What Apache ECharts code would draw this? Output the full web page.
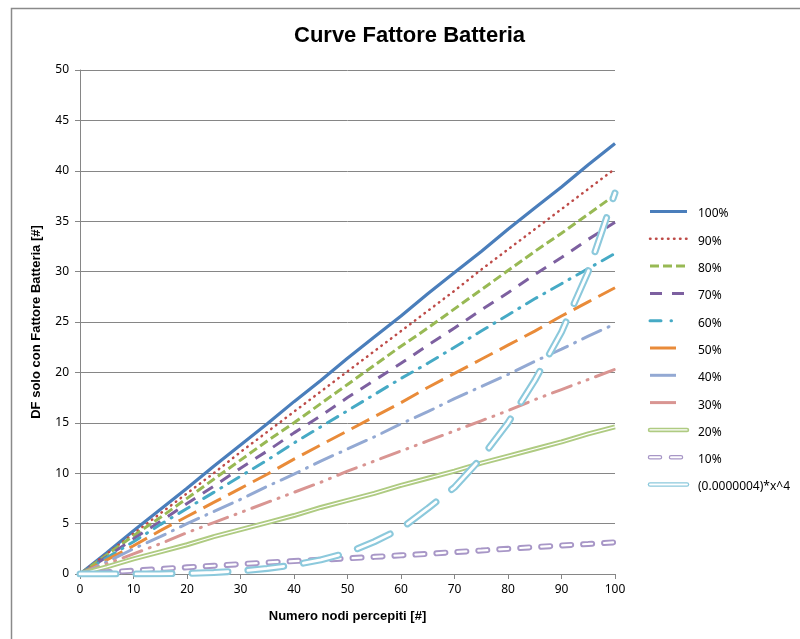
<!DOCTYPE html>
<html>
<head>
<meta charset="utf-8">
<script src="https://cdn.jsdelivr.net/npm/echarts@6/dist/echarts.min.js"></script>
<style>
html,body{margin:0;padding:0;background:#fff;}
#chart{width:800px;height:639px;}
</style>
</head>
<body>
<div id="chart"></div>
<script>
// ---- data ----
var xValues = [0,5,10,15,20,25,30,35,40,45,50,55,60,65,70,75,80,85,90,95,100];
var xTicks = [0,10,20,30,40,50,60,70,80,90,100];
var yTicks = [0,5,10,15,20,25,30,35,40,45,50];
var seriesNames = ['100%','90%','80%','70%','60%','50%','40%','30%','20%','10%','(0.0000004)*x^4'];
var s100 = [0,2.1,4.3,6.4,8.5,10.7,12.8,14.9,17.1,19.2,21.4,23.5,25.6,27.8,29.9,32.0,34.2,36.3,38.4,40.6,42.7];
var s90  = [0,2.0,4.0,6.0,8.0,10.0,12.1,14.1,16.1,18.1,20.1,22.1,24.1,26.1,28.1,30.2,32.2,34.2,36.2,38.2,40.2];
var s80  = [0,1.9,3.8,5.6,7.5,9.4,11.3,13.2,15.0,16.9,18.8,20.7,22.6,24.4,26.3,28.2,30.1,32.0,33.8,35.7,37.6];
var s70  = [0,1.7,3.5,5.2,7.0,8.7,10.5,12.2,14.0,15.7,17.5,19.2,20.9,22.7,24.4,26.2,27.9,29.7,31.4,33.2,34.9];
var s60  = [0,1.6,3.2,4.9,6.5,8.1,9.7,11.3,13.0,14.6,16.2,17.8,19.4,20.9,22.5,24.1,25.7,27.3,28.8,30.3,31.8];
var s50  = [0,1.4,2.8,4.3,5.7,7.1,8.5,9.9,11.4,12.8,14.2,15.6,17.0,18.5,19.9,21.3,22.7,24.1,25.6,27.0,28.4];
var s40  = [0,1.2,2.5,3.7,5.0,6.2,7.4,8.7,9.9,11.2,12.4,13.6,14.9,16.1,17.4,18.6,19.8,21.1,22.3,23.6,24.8];
var s30  = [0,1.0,2.0,3.0,4.1,5.1,6.1,7.1,8.1,9.1,10.2,11.2,12.2,13.2,14.2,15.2,16.2,17.3,18.3,19.3,20.3];
var s20  = [0,0.7,1.5,2.2,2.9,3.7,4.4,5.1,5.8,6.6,7.3,8.0,8.8,9.5,10.2,11.0,11.7,12.4,13.1,13.9,14.6];
var s10  = [0,0.17,0.33,0.5,0.66,0.82,0.98,1.14,1.28,1.42,1.55,1.70,1.85,2.0,2.17,2.33,2.5,2.67,2.83,2.98,3.14];
var sPow = [0,0,0.01,0.02,0.06,0.15,0.3,0.55,0.9,1.4,2.1,3.2,4.5,6.5,8.6,11.5,15.0,19.2,24.0,30.0,37.8];
var seriesValues = [s100,s90,s80,s70,s60,s50,s40,s30,s20,s10,sPow];

// ---- styles ----
var styles = [
  {color:'#4A7EBB', width:3.2, type:'solid', cap:'butt', legType:'solid'},
  {color:'#BE4B48', width:2.5, type:[0.5,5.5], cap:'round', legType:[0.5,5.5]},
  {color:'#98B954', width:3,   type:[9,4], cap:'butt', legType:[9,4]},
  {color:'#7D60A0', width:3,   type:[12,9], cap:'butt', legType:[12,10]},
  {color:'#46AAC5', width:3,   type:[12,8,1,8], cap:'round', legType:[11,10,0.5,30]},
  {color:'#E98B39', width:3,   type:[20,8], cap:'butt', legType:[26,20]},
  {color:'#93A9D3', width:3,   type:[20,8,1,8], cap:'round', legType:[26,20]},
  {color:'#D99592', width:3,   type:[20,8,1,8,1,8], cap:'round', legType:[26,20]},
  {color:'#AFCB82', width:5,   type:'solid', cap:'butt', inner:1.2, legType:'solid'},
  {color:'#A897C7', width:6,   type:[9,12], cap:'round', inner:2.2, legType:[10,11]},
  {color:'#8CC9DC', width:7,   type:[36,20], cap:'round', inner:2.8, legType:'solid'}
];

function pairs(vals){ return xValues.map(function(x,i){ return [x, vals[i]]; }); }

var series = [];
seriesNames.forEach(function(name, i){
  var st = styles[i];
  series.push({
    name: name, type:'line', data: pairs(seriesValues[i]),
    symbol:'none', showSymbol:false, silent:true, animation:false,
    lineStyle:{color:st.color, width:st.width, type:st.type, cap:st.cap},
    itemStyle:{color:st.color}, z: 2 + i*2
  });
  if (st.inner) {
    series.push({
      name: name + ' ', type:'line', data: pairs(seriesValues[i]),
      symbol:'none', showSymbol:false, silent:true, animation:false,
      lineStyle:{color:'#ffffff', width:st.inner, type:st.type, cap:st.cap},
      z: 3 + i*2
    });
  }
});

var LEG_LEFT = 647, LEG_TOP = 203, LEG_W = 40, LEG_H = 12, LEG_GAP = 15.3;
var LEG_X0 = LEG_LEFT + 3, LEG_X1 = LEG_LEFT + 40;
var ICON_Y0 = 211.5, ICON_STEP = 27.3;
var legendData = seriesNames.map(function(n){ return {name:n}; });

// legend icons drawn as graphics (the built-in icons are hidden)
var legendIcons = [];
styles.forEach(function(st, i){
  var cy = ICON_Y0 + i*ICON_STEP;
  var w = Math.min(st.width, 4.5);
  var dash = Array.isArray(st.legType) ? st.legType : null;
  var capStyle = (st.inner || i===1 || i===4) ? 'round' : 'butt';
  legendIcons.push({
    type:'line', silent:true, z:100,
    shape:{x1:LEG_X0, y1:cy, x2:LEG_X1, y2:cy},
    style:{stroke:st.color, lineWidth:w, lineDash:dash, lineCap:capStyle}
  });
  if (st.inner) {
    legendIcons.push({
      type:'line', silent:true, z:101,
      shape:{x1:LEG_X0, y1:cy, x2:LEG_X1, y2:cy},
      style:{stroke:'#ffffff', lineWidth:Math.min(st.inner, 2), lineDash:dash, lineCap:capStyle}
    });
  }
});

var chart = echarts.init(document.getElementById('chart'), null, {renderer:'canvas'});
chart.setOption({
  animation:false,
  title:{
    text:'Curve Fattore Batteria', left:289, top:20,
    textStyle:{fontFamily:'Liberation Sans Narrow, Liberation Sans, sans-serif', fontWeight:'bold', fontSize:22, color:'#000'}
  },
  grid:{left:80, right:185, top:70, bottom:65},
  legend:{
    orient:'vertical', left:LEG_LEFT, top:LEG_TOP, itemWidth:LEG_W, itemHeight:LEG_H, itemGap:LEG_GAP,
    data: legendData, selectedMode:false,
    itemStyle:{opacity:0}, lineStyle:{opacity:0},
    textStyle:{fontFamily:'Noto Sans, sans-serif', fontSize:12, color:'#000'}
  },
  xAxis:{
    type:'value', min:0, max:100, interval:10,
    name:'Numero nodi percepiti [#]', nameLocation:'middle', nameGap:36,
    nameTextStyle:{fontFamily:'Liberation Sans Narrow, Liberation Sans, sans-serif', fontWeight:'bold', fontSize:13, color:'#000'},
    axisLine:{lineStyle:{color:'#868686', width:1}},
    axisTick:{show:true, length:5, lineStyle:{color:'#868686'}},
    axisLabel:{margin:10, fontFamily:'Noto Sans, sans-serif', fontSize:12, color:'#000',
      formatter:function(v){ return xTicks.indexOf(v) >= 0 ? String(v) : ''; }},
    splitLine:{show:false}
  },
  yAxis:{
    type:'value', min:0, max:50, interval:5,
    name:'DF solo con Fattore Batteria [#]', nameLocation:'middle', nameGap:37,
    nameTextStyle:{fontFamily:'Liberation Sans Narrow, Liberation Sans, sans-serif', fontWeight:'bold', fontSize:13, color:'#000'},
    axisLine:{show:true, lineStyle:{color:'#868686', width:1}},
    axisTick:{show:true, length:5, lineStyle:{color:'#868686'}},
    axisLabel:{margin:11, fontFamily:'Noto Sans, sans-serif', fontSize:12, color:'#000',
      formatter:function(v){ return yTicks.indexOf(v) >= 0 ? String(v) : ''; }},
    splitLine:{show:true, lineStyle:{color:'#868686', width:1}}
  },
  graphic:[{
    type:'rect', left:9, top:6, silent:true, z:-10,
    shape:{x:0, y:0, width:900, height:700},
    style:{fill:null, stroke:'#8a8a8a', lineWidth:1.5}
  }].concat(legendIcons),
  series: series
});
</script>
</body>
</html>
